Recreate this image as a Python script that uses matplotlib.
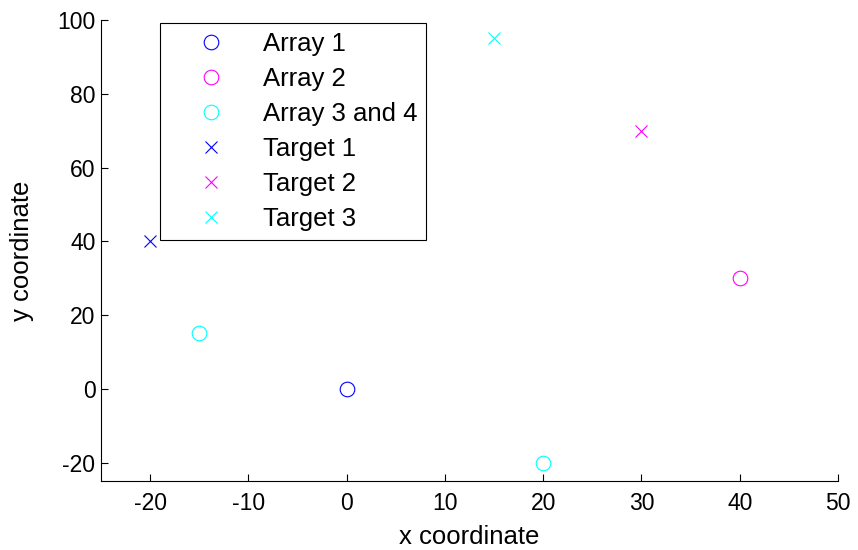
import matplotlib
matplotlib.use("Agg")
import matplotlib.pyplot as plt

plt.rcParams['font.family'] = ['Liberation Sans', 'DejaVu Sans']
plt.rcParams['axes.unicode_minus'] = False

# posições dos arrays e alvos
array1_x = [0]
array1_y = [0]
array2_x = [40]
array2_y = [30]
array34_x = [-15, 20]
array34_y = [15, -20]
target1_x = [-20]
target1_y = [40]
target2_x = [30]
target2_y = [70]
target3_x = [15]
target3_y = [95]

fig = plt.figure(figsize=(8.58, 5.5), dpi=100)
ax = fig.add_axes([0.1177, 0.1255, 0.859, 0.8381])

ms_o = 10.5
ms_x = 8.5
lw = 0.8
ax.plot(array1_x, array1_y, 'o', mfc='none', mec=(0, 0, 1), ms=ms_o, mew=lw, label='Array 1')
ax.plot(array2_x, array2_y, 'o', mfc='none', mec=(1, 0, 1), ms=ms_o, mew=lw, label='Array 2')
ax.plot(array34_x, array34_y, 'o', mfc='none', mec=(0, 1, 1), ms=ms_o, mew=lw, label='Array 3 and 4')
ax.plot(target1_x, target1_y, 'x', color=(0, 0, 1), ms=ms_x, mew=lw, label='Target 1')
ax.plot(target2_x, target2_y, 'x', color=(1, 0, 1), ms=ms_x, mew=lw, label='Target 2')
ax.plot(target3_x, target3_y, 'x', color=(0, 1, 1), ms=ms_x, mew=lw, label='Target 3')

ax.set_xlim(-25, 50)
ax.set_ylim(-25, 100)
ax.set_xticks(range(-20, 51, 10))
ax.set_yticks(range(-20, 101, 20))

ax.spines['top'].set_visible(False)
ax.spines['right'].set_visible(False)
ax.tick_params(direction='in', length=5, width=0.8, labelsize=16.5)
ax.tick_params(axis='x', pad=8)
ax.tick_params(axis='y', pad=4)

ax.set_xlabel('x coordinate', fontsize=18.5, labelpad=7)
ax.set_ylabel('y coordinate', fontsize=18.5, labelpad=17)

leg = ax.legend(loc='upper left', bbox_to_anchor=(0.080, 0.9935), fontsize=18.5,
                frameon=True, fancybox=False, edgecolor='black', framealpha=1,
                borderaxespad=0, handlelength=3.3, handletextpad=0.35,
                labelspacing=0.43, borderpad=0.35)
leg.get_frame().set_linewidth(0.8)

fig.savefig('out.png', dpi=100)
